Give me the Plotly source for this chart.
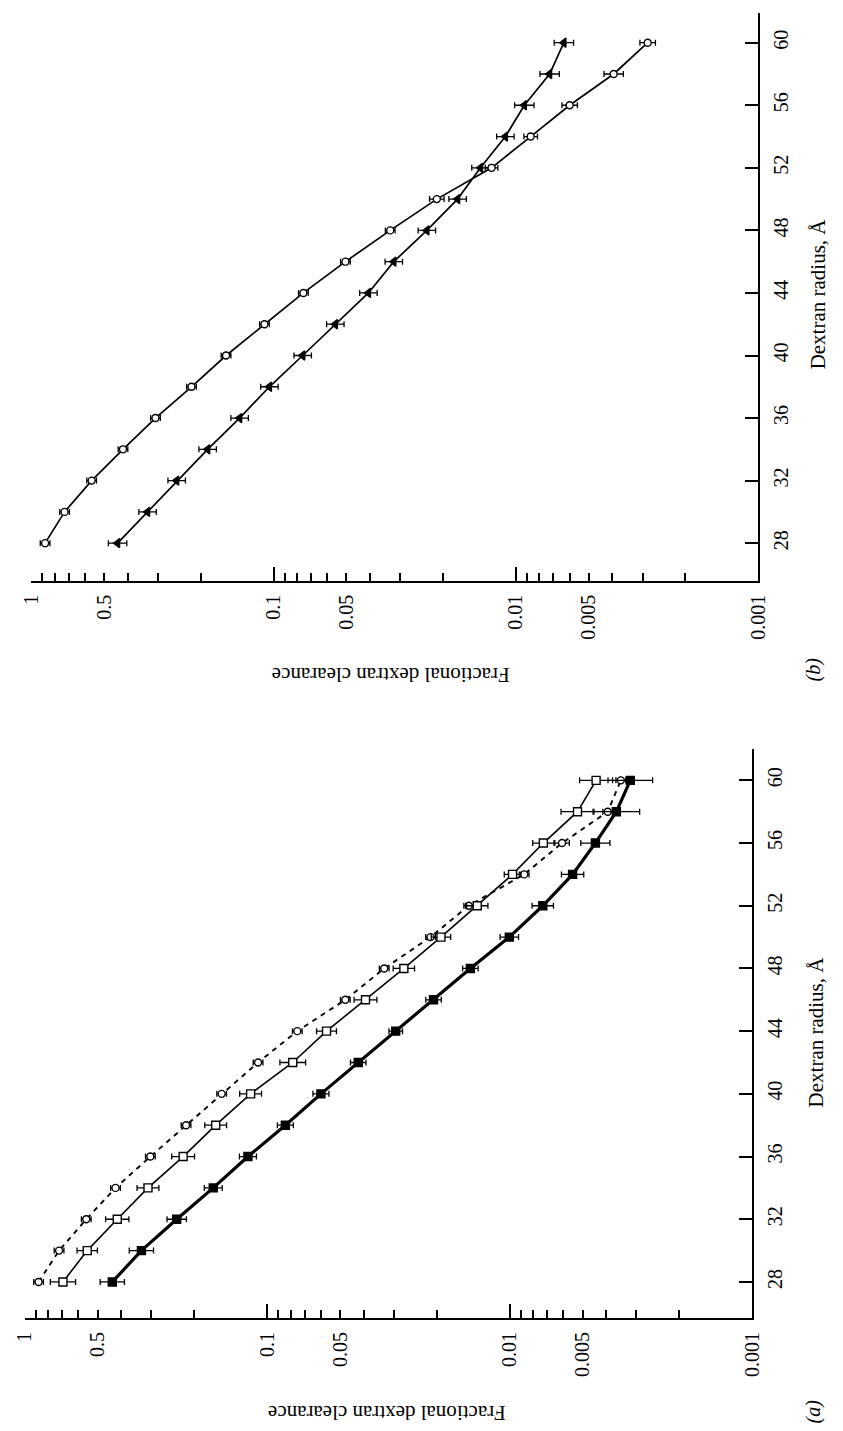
import plotly.graph_objects as go

# ---------------- data ----------------
radius = [28, 30, 32, 34, 36, 38, 40, 42, 44, 46, 48, 50, 52, 54, 56, 58, 60]

# panel (a)
a_open_circle = [0.876, 0.721, 0.557, 0.422, 0.303, 0.216, 0.154, 0.109, 0.0751, 0.0476,
                 0.0329, 0.0212, 0.01475, 0.00871, 0.00608, 0.00394, 0.00348]
a_open_circle_err = [0.02, 0.02, 0.02, 0.02, 0.02, 0.02, 0.02, 0.02, 0.02, 0.02,
                     0.02, 0.02, 0.02, 0.02, 0.03, 0.02, 0.02]
a_open_square = [0.695, 0.552, 0.415, 0.310, 0.222, 0.163, 0.117, 0.0784, 0.0569, 0.0393,
                 0.0273, 0.0192, 0.0136, 0.00973, 0.00726, 0.00525, 0.00440]
a_open_square_err = [0.052, 0.042, 0.048, 0.045, 0.047, 0.045, 0.045, 0.053, 0.041, 0.047,
                     0.044, 0.040, 0.044, 0.034, 0.044, 0.068, 0.068]
a_filled_square = [0.435, 0.330, 0.236, 0.1668, 0.120, 0.0841, 0.0600, 0.0421, 0.0295, 0.0206,
                   0.01452, 0.01003, 0.00730, 0.00550, 0.00443, 0.00363, 0.00318]
a_filled_square_err = [0.050, 0.050, 0.040, 0.037, 0.035, 0.033, 0.033, 0.032, 0.028, 0.032,
                       0.032, 0.038, 0.044, 0.046, 0.060, 0.096, 0.092]

# panel (b)
b_open_circle = [0.876, 0.728, 0.563, 0.418, 0.307, 0.218, 0.157, 0.109, 0.0753, 0.0505,
                 0.0330, 0.0212, 0.0126, 0.00869, 0.00600, 0.00395, 0.00286]
b_open_circle_err = [0.02, 0.02, 0.02, 0.02, 0.02, 0.02, 0.02, 0.02, 0.02, 0.02,
                     0.02, 0.03, 0.026, 0.028, 0.032, 0.04, 0.032]
b_filled_triangle = [0.44, 0.331, 0.251, 0.187, 0.138, 0.104, 0.0758, 0.0556, 0.0406, 0.0319,
                     0.0233, 0.0174, 0.0140, 0.01105, 0.00923, 0.00726, 0.00634]
b_filled_triangle_err = [0.038, 0.036, 0.036, 0.036, 0.036, 0.036, 0.036, 0.036, 0.036, 0.036,
                         0.036, 0.036, 0.036, 0.036, 0.04, 0.04, 0.04]

tick_vals = [1, 0.9, 0.8, 0.7, 0.6, 0.5, 0.4, 0.3, 0.2,
             0.1, 0.09, 0.08, 0.07, 0.06, 0.05, 0.04, 0.03, 0.02,
             0.01, 0.009, 0.008, 0.007, 0.006, 0.005, 0.004, 0.003, 0.002, 0.001]
tick_text = ["1", "", "", "", "", "0.5", "", "", "",
             "0.1", "", "", "", "", "0.05", "", "", "",
             "0.01", "", "", "", "", "0.005", "", "", "", "0.001"]
decade_ticks = [1, 0.1, 0.01]
radius_ticks = [28, 32, 36, 40, 44, 48, 52, 56, 60]

FONT = "Liberation Serif, Times New Roman, serif"
W, H = 843, 1431


def err_arrays(vals, dex):
    plus = [v * (10 ** d - 1) for v, d in zip(vals, dex)]
    minus = [v * (1 - 10 ** (-d)) for v, d in zip(vals, dex)]
    return plus, minus


def series(vals, dex, xa, ya, symbol, fill, size, lw, dash="solid"):
    plus, minus = err_arrays(vals, dex)
    return go.Scatter(
        x=vals, y=radius, xaxis=xa, yaxis=ya, mode="lines+markers",
        line=dict(color="black", width=lw, dash=dash),
        marker=dict(symbol=symbol, size=size, color=fill,
                    line=dict(color="black", width=1.4)),
        error_x=dict(type="data", symmetric=False, array=plus, arrayminus=minus,
                     color="black", thickness=1.3, width=3),
        showlegend=False, hoverinfo="skip",
    )


fig = go.Figure()
# panel (b) -> axes x / y
fig.add_trace(series(b_filled_triangle, b_filled_triangle_err, "x", "y",
                     "triangle-left", "black", 8, 1.7))
fig.add_trace(series(b_open_circle, b_open_circle_err, "x", "y",
                     "circle", "white", 7, 1.7))
# panel (a) -> axes x2 / y2
fig.add_trace(series(a_open_circle, a_open_circle_err, "x2", "y2",
                     "circle", "white", 7, 1.9, dash="5px,5px"))
fig.add_trace(series(a_open_square, a_open_square_err, "x2", "y2",
                     "square", "white", 8, 1.6))
fig.add_trace(series(a_filled_square, a_filled_square_err, "x2", "y2",
                     "square", "black", 8, 3.2))


def xaxis_cfg(domain, anchor):
    return dict(
        domain=domain, anchor=anchor, type="log", range=[0, -3],
        tickmode="array", tickvals=tick_vals, ticktext=tick_text,
        ticks="inside", ticklen=8, tickwidth=1.6, tickcolor="black",
        tickangle=-90, tickfont=dict(family=FONT, size=20, color="black"),
        minor=dict(tickmode="array", tickvals=decade_ticks, ticks="inside",
                   ticklen=14, tickwidth=1.6, tickcolor="black", showgrid=False),
        showline=True, linecolor="black", linewidth=2, mirror=False,
        showgrid=False, zeroline=False, side="bottom", ticklabelstandoff=4,
    )


def yaxis_cfg(domain, anchor, rng):
    return dict(
        domain=domain, anchor=anchor, range=rng,
        tickmode="array", tickvals=radius_ticks,
        ticks="inside", ticklen=13, tickwidth=1.6, tickcolor="black",
        tickangle=-90, tickfont=dict(family=FONT, size=20, color="black"),
        showline=True, linecolor="black", linewidth=2, mirror=False,
        showgrid=False, zeroline=False, side="right", ticklabelstandoff=4,
    )


fig.update_layout(
    width=W, height=H, margin=dict(l=0, r=0, t=0, b=0),
    paper_bgcolor="white", plot_bgcolor="white",
    xaxis=xaxis_cfg([20.7 / W, 767.3 / W], "y"),
    yaxis=yaxis_cfg([1 - 580.7 / H, 1 - 13 / H], "x", [25.6, 61.9]),
    xaxis2=xaxis_cfg([14 / W, 761 / W], "y2"),
    yaxis2=yaxis_cfg([1 - 1318 / H, 1 - 749 / H], "x2", [25.7, 62.0]),
)


def ann(text, px, py, angle, size=21, italic=False):
    fig.add_annotation(
        text=f"<i>{text}</i>" if italic else text,
        x=px / W, y=1 - py / H, xref="paper", yref="paper",
        xanchor="center", yanchor="middle", showarrow=False,
        textangle=angle, font=dict(family=FONT, size=size, color="black"),
    )


ann("Fractional dextran clearance", 390, 675, 180)
ann("Fractional dextran clearance", 386, 1413, 180)
ann("Dextran radius, Å", 829, 294, -90)
ann("Dextran radius, Å", 827, 1032, -90)
ann("(b)", 823, 670, -90, size=20, italic=True)
ann("(a)", 823, 1412, -90, size=20, italic=True)

fig.write_html("out.html")
